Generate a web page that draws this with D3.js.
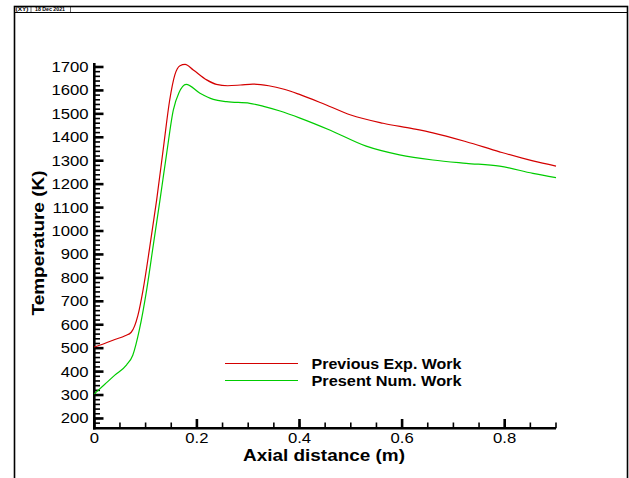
<!DOCTYPE html>
<html><head><meta charset="utf-8">
<script src="https://cdn.jsdelivr.net/npm/d3@7"></script>
<style>body{margin:0;background:#fff}svg{display:block}text{font-family:"Liberation Sans",Arial,sans-serif}</style>
</head><body><svg id="c" width="629" height="478"></svg>
<script>
const expX = [0, 0.02, 0.04, 0.06, 0.072, 0.085, 0.095, 0.108, 0.1215, 0.135, 0.147, 0.157, 0.167, 0.177, 0.193, 0.219, 0.238, 0.26, 0.285, 0.309, 0.34, 0.37, 0.4, 0.45, 0.5, 0.563, 0.62, 0.66, 0.725, 0.79, 0.855, 0.9];
const expT = [505, 520, 537, 553, 568, 640, 748, 930, 1132, 1360, 1559, 1666, 1705, 1711, 1687, 1645, 1626, 1620, 1623, 1627, 1620, 1605, 1583, 1540, 1495, 1460, 1437, 1419, 1381, 1338, 1299, 1277];
const numX = [0, 0.02, 0.04, 0.063, 0.075, 0.088, 0.102, 0.115, 0.128, 0.141, 0.154, 0.165, 0.179, 0.206, 0.232, 0.258, 0.303, 0.33, 0.362, 0.401, 0.46, 0.53, 0.595, 0.66, 0.725, 0.79, 0.855, 0.9];
const numT = [305, 345, 385, 429, 470, 580, 748, 940, 1132, 1330, 1516, 1590, 1626, 1588, 1562, 1552, 1545, 1532, 1512, 1482, 1430, 1362, 1325, 1303, 1289, 1277, 1246, 1228];
const xTicks = [0, 0.2, 0.4, 0.6, 0.8];
const xTickLabels = ["0", "0.2", "0.4", "0.6", "0.8"];
const yTicks = [200, 300, 400, 500, 600, 700, 800, 900, 1000, 1100, 1200, 1300, 1400, 1500, 1600, 1700];
const seriesNames = ["Previous Exp. Work", "Present Num. Work"];
const seriesColors = ["#d40000", "#00cc00"];

const svg = d3.select("#c");
function widen(sel, f) {
  sel.each(function(){ const L = this.getComputedTextLength(); d3.select(this).attr("textLength", L*f).attr("lengthAdjust","spacingAndGlyphs"); });
}
svg.append("rect").attr("x",14.5).attr("y",6.5).attr("width",613).attr("height",480)
  .attr("fill","none").attr("stroke","#000").attr("stroke-width",1.6);
svg.append("line").attr("x1",14.5).attr("x2",627.5).attr("y1",12.5).attr("y2",12.5).attr("stroke","#000").attr("stroke-width",1.2);
svg.append("text").attr("x",15.5).attr("y",11.4).attr("font-size",5).attr("font-weight","bold").attr("textLength",13).attr("lengthAdjust","spacingAndGlyphs").text("(XY)");
svg.append("line").attr("x1",31).attr("x2",31).attr("y1",7).attr("y2",12).attr("stroke","#000").attr("stroke-width",0.6);
svg.append("text").attr("x",35).attr("y",11.4).attr("font-size",5).attr("font-weight","bold").attr("textLength",30).attr("lengthAdjust","spacingAndGlyphs").text("18 Dec 2021");
svg.append("line").attr("x1",70.5).attr("x2",70.5).attr("y1",7).attr("y2",12).attr("stroke","#000").attr("stroke-width",0.6);

const x = d3.scaleLinear().domain([0, 0.9]).range([94.3, 556]);
const y = d3.scaleLinear().domain([158, 1717]).range([428.3, 63]);

const g = svg.append("g");
const xMinor = d3.range(0, 0.9001, 0.05).map(v => +v.toFixed(2));
const yMinor = d3.range(160, 1717, 20);
g.selectAll(".xm").data(xMinor).enter().append("line")
  .attr("x1",d=>x(d)).attr("x2",d=>x(d)).attr("y1",428.3).attr("y2",422.5).attr("stroke","#000").attr("stroke-width",1.6);
g.selectAll(".ym").data(yMinor).enter().append("line")
  .attr("y1",d=>y(d)).attr("y2",d=>y(d)).attr("x1",94.3).attr("x2",100).attr("stroke","#000").attr("stroke-width",1.6);
g.selectAll(".xM").data(xTicks).enter().append("line")
  .attr("x1",d=>x(d)).attr("x2",d=>x(d)).attr("y1",428.3).attr("y2",419).attr("stroke","#000").attr("stroke-width",2.6);
g.selectAll(".yM").data(yTicks).enter().append("line")
  .attr("y1",d=>y(d)).attr("y2",d=>y(d)).attr("x1",94.3).attr("x2",103.5).attr("stroke","#000").attr("stroke-width",2.6);
g.append("line").attr("x1",94.3).attr("x2",94.3).attr("y1",y.range()[1]).attr("y2",429.5).attr("stroke","#000").attr("stroke-width",2.6);
g.append("line").attr("x1",93).attr("x2",x(0.9)).attr("y1",428.3).attr("y2",428.3).attr("stroke","#000").attr("stroke-width",2.6);
const xl = g.selectAll(".xl").data(xTicks).enter().append("text")
  .attr("x",d=>x(d)).attr("y",442.5).attr("text-anchor","middle").attr("font-size",14.5).text((d,i)=>xTickLabels[i]);
widen(xl, 1.15);
const yl = g.selectAll(".yl").data(yTicks).enter().append("text")
  .attr("x",88.5).attr("y",d=>y(d)+5).attr("text-anchor","end").attr("font-size",14.5).text(d=>d);
widen(yl, 1.15);
const xt = svg.append("text").attr("x",324).attr("y",460.5).attr("text-anchor","middle").attr("font-size",16).attr("font-weight","bold").text("Axial distance (m)");
xt.attr("textLength",162).attr("lengthAdjust","spacingAndGlyphs");
const yt = svg.append("text").attr("transform","translate(44,243) rotate(-90)").attr("text-anchor","middle").attr("font-size",16.5).attr("font-weight","bold").text("Temperature (K)");
yt.attr("textLength",145).attr("lengthAdjust","spacingAndGlyphs");

const line = d3.line().curve(d3.curveMonotoneX).x(d=>x(d[0])).y(d=>y(d[1]));
const series = [expX.map((v,i)=>[v,expT[i]]), numX.map((v,i)=>[v,numT[i]])];
series.forEach((s,i)=>{
  svg.append("path").attr("d",line(s)).attr("fill","none").attr("stroke",seriesColors[i]).attr("stroke-width",1.2);
});
const ly = [363.5, 380.5];
seriesNames.forEach((n,i)=>{
  svg.append("line").attr("x1",225).attr("x2",298).attr("y1",ly[i]).attr("y2",ly[i]).attr("stroke",seriesColors[i]).attr("stroke-width",1.2);
  svg.append("text").attr("x",311.5).attr("y",ly[i]+5).attr("font-size",14).attr("font-weight","bold")
    .attr("textLength",150).attr("lengthAdjust","spacingAndGlyphs").text(n);
});
</script></body></html>
